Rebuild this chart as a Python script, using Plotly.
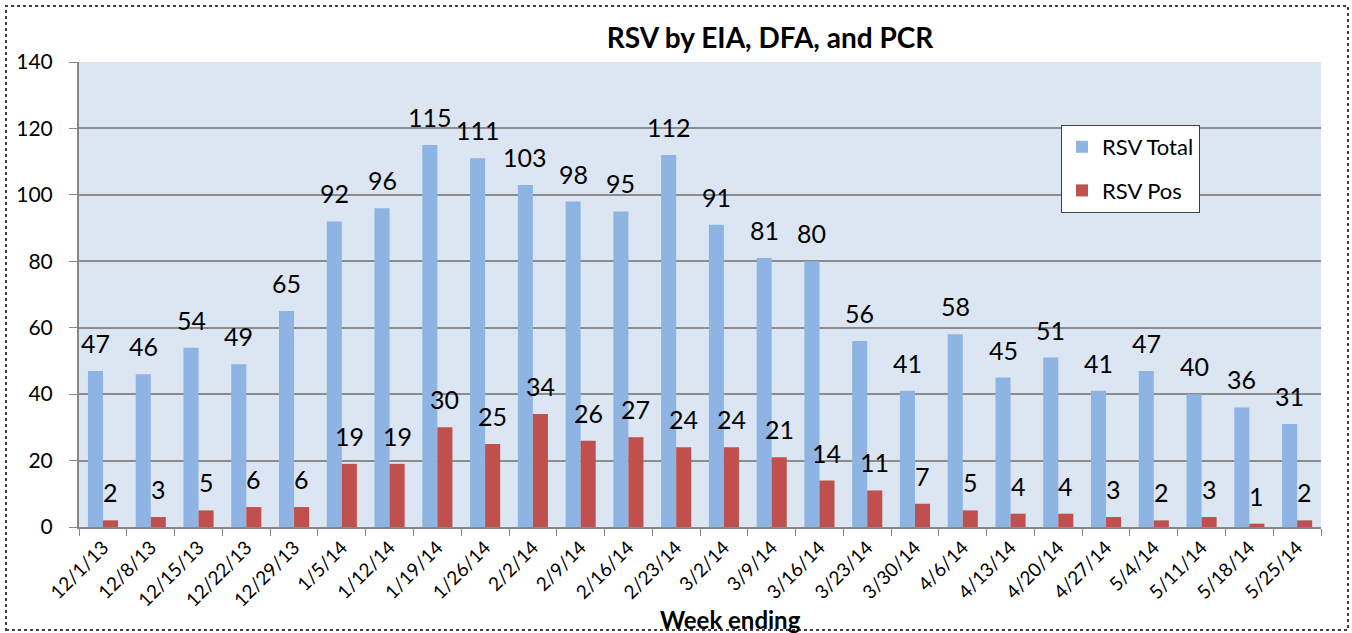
import plotly.graph_objects as go

weeks = ["12/1/13", "12/8/13", "12/15/13", "12/22/13", "12/29/13", "1/5/14", "1/12/14",
         "1/19/14", "1/26/14", "2/2/14", "2/9/14", "2/16/14", "2/23/14", "3/2/14", "3/9/14",
         "3/16/14", "3/23/14", "3/30/14", "4/6/14", "4/13/14", "4/20/14", "4/27/14",
         "5/4/14", "5/11/14", "5/18/14", "5/25/14"]
rsv_total = [47, 46, 54, 49, 65, 92, 96, 115, 111, 103, 98, 95, 112, 91, 81, 80, 56, 41,
             58, 45, 51, 41, 47, 40, 36, 31]
rsv_pos = [2, 3, 5, 6, 6, 19, 19, 30, 25, 34, 26, 27, 24, 24, 21, 14, 11, 7, 5, 4, 4, 3,
           2, 3, 1, 2]

BLUE = "#8DB4E2"
RED = "#C0504D"
FONT = "Lato"

fig = go.Figure()
fig.add_trace(go.Bar(x=weeks, y=rsv_total, name="RSV Total", marker_color=BLUE,
                     marker_line_width=0, legendgroup="a"))
fig.add_trace(go.Bar(x=weeks, y=rsv_pos, name="RSV Pos", marker_color=RED,
                     marker_line_width=0, legendgroup="b"))

annotations = []
for w, v in zip(weeks, rsv_total):
    annotations.append(dict(x=w, y=v, xref="x", yref="y", text=str(v), showarrow=False,
                            xshift=-7.5, yshift=28, yanchor="middle",
                            font=dict(family=FONT, size=25, color="#000000")))
for w, v in zip(weeks, rsv_pos):
    annotations.append(dict(x=w, y=v, xref="x", yref="y", text=str(v), showarrow=False,
                            xshift=7.5, yshift=28, yanchor="middle",
                            font=dict(family=FONT, size=25, color="#000000")))
annotations.append(dict(x=(730 - 79) / 1242, y=(527 - 619) / 465, xref="paper", yref="paper",
                        text="<b>Week ending</b>", showarrow=False, yanchor="middle",
                        font=dict(family=FONT, size=24, color="#000000")))

fig.update_layout(
    width=1352, height=633,
    margin=dict(l=79, r=31, t=62, b=106),
    paper_bgcolor="white",
    plot_bgcolor="#DCE6F2",
    barmode="group",
    bargap=0.37,
    bargroupgap=0,
    title=dict(text="<b>RSV by EIA, DFA, and PCR</b>", x=770 / 1352, xref="container",
               xanchor="center", y=1 - 38 / 633, yanchor="middle",
               font=dict(family=FONT, size=28, color="#000000")),
    font=dict(family=FONT, color="#000000"),
    showlegend=True,
    legend=dict(x=(1061 - 79) / 1242, y=(527 - 125) / 465, xanchor="left", yanchor="top",
                bgcolor="white", bordercolor="#404040", borderwidth=1,
                font=dict(family=FONT, size=22, color="#000000"),
                traceorder="grouped", tracegroupgap=12),
    annotations=annotations,
    shapes=[dict(type="rect", xref="paper", yref="paper",
                 x0=(6 - 79) / 1242, x1=(1348 - 79) / 1242,
                 y0=(527 - 630) / 465, y1=(527 - 6) / 465,
                 line=dict(color="#404040", width=2, dash="dot"), layer="below")],
)

fig.update_xaxes(
    type="category", tickangle=-45, tickson="boundaries", ticks="outside", ticklen=7,
    tickcolor="#888888", showline=True, linecolor="#888888", linewidth=2,
    tickfont=dict(family=FONT, size=19, color="#000000"), showgrid=False,
)
fig.update_yaxes(
    range=[0, 140], dtick=20, ticks="outside", ticklen=8, tickcolor="#888888",
    showline=True, linecolor="#888888", linewidth=2, showgrid=True, gridcolor="#8C8C8C",
    gridwidth=1.5, zeroline=False, ticklabelstandoff=12,
    tickfont=dict(family=FONT, size=21, color="#000000"),
)

fig.write_html("out.html", config={"displayModeBar": False},
               post_script="document.body.style.margin='0';document.body.style.overflow='hidden';")
